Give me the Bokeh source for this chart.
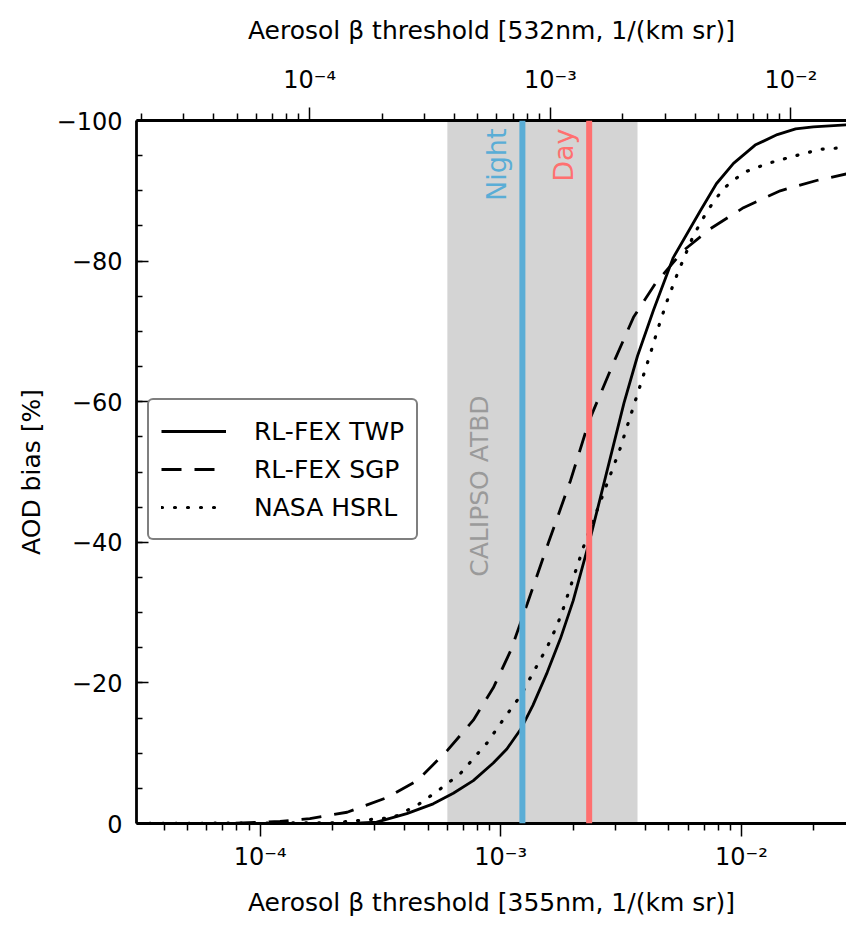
import math
from bokeh.plotting import figure
from bokeh.models import (Range1d, LogScale, LogAxis, FixedTicker, SingleIntervalTicker,
                          CustomJSTickFormatter, BoxAnnotation, Span, Label, Legend, LegendItem)
from bokeh.embed import file_html
from bokeh.resources import INLINE

# ---------------- data ----------------
# Aerosol backscatter threshold at 355 nm [1/(km sr)] and AOD bias [%]
twp_beta = [3.07e-5, 1.59e-4, 2.51e-4, 3.05e-4, 4.07e-4, 5.24e-4, 6.35e-4, 7.69e-4, 9.31e-4,
            1.06e-3, 1.21e-3, 1.36e-3, 1.56e-3, 1.77e-3, 2.00e-3, 2.33e-3, 2.60e-3, 2.90e-3,
            3.25e-3, 3.70e-3, 4.31e-3, 5.21e-3, 6.76e-3, 7.87e-3, 9.27e-3, 1.14e-2, 1.41e-2,
            1.68e-2, 1.99e-2, 2.82e-2]
twp_bias = [0.0, 0.0, -0.05, -0.2, -1.4, -2.8, -4.3, -6.1, -8.6,
            -10.6, -13.4, -16.8, -21.5, -26.3, -31.7, -40.0, -46.5, -53.0,
            -59.8, -66.5, -73.0, -80.5, -87.2, -91.0, -93.9, -96.5, -98.0,
            -98.8, -99.1, -99.4]

sgp_beta = [3.07e-5, 5.0e-5, 7.73e-5, 1.21e-4, 1.61e-4, 2.30e-4, 3.37e-4, 4.50e-4, 6.00e-4,
            7.69e-4, 9.31e-4, 1.10e-3, 1.29e-3, 1.58e-3, 1.95e-3, 2.33e-3, 2.99e-3, 3.56e-3,
            4.39e-3, 5.74e-3, 7.43e-3, 1.02e-2, 1.45e-2, 2.07e-2, 2.82e-2]
sgp_bias = [0.0, 0.0, -0.04, -0.3, -0.7, -1.6, -3.7, -6.1, -10.4,
            -14.7, -19.3, -24.6, -31.3, -40.0, -48.8, -57.3, -66.1, -72.0,
            -76.8, -81.5, -84.6, -87.6, -90.0, -91.5, -92.5]

hsrl_beta = [3.07e-5, 2.0e-4, 3.57e-4, 4.50e-4, 5.50e-4, 6.79e-4, 8.79e-4, 1.02e-3, 1.21e-3,
             1.36e-3, 1.56e-3, 1.72e-3, 1.82e-3, 2.24e-3, 3.11e-3, 4.19e-3, 4.52e-3, 4.92e-3,
             5.42e-3, 6.31e-3, 7.23e-3, 8.41e-3, 1.02e-2, 1.29e-2, 1.64e-2, 2.13e-2, 2.82e-2]
hsrl_bias = [0.0, -0.1, -0.85, -2.6, -4.7, -7.1, -11.5, -14.7, -18.2,
             -21.4, -25.1, -28.3, -30.6, -40.0, -53.0, -66.9, -70.6, -74.4,
             -78.2, -83.6, -87.2, -90.3, -92.6, -93.9, -94.9, -95.9, -96.2]

series_names = ["RL-FEX TWP", "RL-FEX SGP", "NASA HSRL"]

calipso_band = [6.0e-4, 3.7e-3]      # CALIPSO ATBD threshold range (355 nm)
night_threshold = 1.23e-3
day_threshold = 2.33e-3
wavelength_factor = 1.607            # beta_355 / beta_532

x_start, x_end = 3.065e-5, 2.733e-2
x_major = [1e-4, 1e-3, 1e-2]
x_minor = [m * 10.0 ** e for e in range(-5, -1) for m in range(2, 10)]

# ---------------- style ----------------
FONT = "DejaVu Sans"
BLUE = "#5aadd6"
RED = "#ff7070"
BAND = "#d4d4d4"

p = figure(width=846, height=925, output_backend="svg", toolbar_location=None,
           x_axis_type="log", x_range=Range1d(x_start, x_end), y_range=Range1d(0, -100),
           min_border_left=136, min_border_right=0, min_border_top=120, min_border_bottom=102)
p.outline_line_color = None
p.grid.visible = False
p.background_fill_color = "white"
p.border_fill_color = "white"

# top axis: 532 nm
p.extra_x_ranges = {"top": Range1d(x_start / wavelength_factor, x_end / wavelength_factor)}
p.extra_x_scales = {"top": LogScale()}
top_axis = LogAxis(x_range_name="top")
p.add_layout(top_axis, "above")

log_fmt = CustomJSTickFormatter(code="""
const e = Math.round(Math.log10(tick));
const m = {"-": "\\u207b", "0": "\\u2070", "1": "\\u00b9", "2": "\\u00b2", "3": "\\u00b3",
           "4": "\\u2074", "5": "\\u2075", "6": "\\u2076"};
return "10" + String(e).split("").map(c => m[c]).join("");
""")

def style_axis(ax):
    ax.major_tick_line_width = 1.5
    ax.minor_tick_line_width = 1.5
    ax.major_tick_line_color = "black"
    ax.minor_tick_line_color = "black"
    ax.axis_line_width = 2.8
    ax.axis_line_color = "black"
    ax.major_label_text_font = FONT
    ax.major_label_text_font_size = "24px"
    ax.major_label_text_color = "black"
    ax.axis_label_text_font = FONT
    ax.axis_label_text_font_size = "25px"
    ax.axis_label_text_font_style = "normal"
    ax.axis_label_text_color = "black"

for ax in (p.below[0], top_axis):
    style_axis(ax)
    ax.ticker = FixedTicker(ticks=x_major, minor_ticks=x_minor)
    ax.formatter = log_fmt
    ax.major_tick_in = 0
    ax.major_tick_out = 13
    ax.minor_tick_in = 0
    ax.minor_tick_out = 7

p.below[0].major_label_standoff = 6
p.below[0].axis_label_standoff = 14
top_axis.major_label_standoff = 14
top_axis.axis_label_standoff = 18

p.below[0].axis_label = "Aerosol \u03b2 threshold [355nm, 1/(km sr)]"
top_axis.axis_label = "Aerosol \u03b2 threshold [532nm, 1/(km sr)]"

ya = p.yaxis[0]
style_axis(ya)
ya.ticker = SingleIntervalTicker(interval=20, num_minor_ticks=4)
ya.formatter = CustomJSTickFormatter(code='return tick == 0 ? "0" : "\\u2212" + Math.abs(tick).toFixed(0);')
ya.major_tick_in = 12
ya.major_tick_out = 0
ya.minor_tick_in = 6
ya.minor_tick_out = 0
ya.major_label_standoff = 14
ya.axis_label = "AOD bias [%]"
ya.axis_label_standoff = 8

# CALIPSO band and thresholds
p.add_layout(BoxAnnotation(left=calipso_band[0], right=calipso_band[1], fill_color=BAND,
                           fill_alpha=1.0, line_color=None, level="underlay"))
p.add_layout(Span(location=night_threshold, dimension="height", line_color=BLUE, line_width=6))
p.add_layout(Span(location=day_threshold, dimension="height", line_color=RED, line_width=6))

for txt, xv, col in (("Night", night_threshold, BLUE), ("Day", day_threshold, RED)):
    p.add_layout(Label(x=xv, y=-100, text=txt, angle=90, angle_units="deg", x_offset=-26, y_offset=-8,
                       text_align="right", text_baseline="alphabetic", text_color=col,
                       text_font=FONT, text_font_size="27px"))
p.add_layout(Label(x=calipso_band[0], y=-48, text="CALIPSO ATBD", angle=90, angle_units="deg",
                   x_offset=32, text_align="center", text_baseline="alphabetic", text_color="#9a9a9a",
                   text_font=FONT, text_font_size="25px"))

# curves
r1 = p.line(twp_beta, twp_bias, line_color="black", line_width=2.8)
r2 = p.line(sgp_beta, sgp_bias, line_color="black", line_width=2.8, line_dash="20 13")
r3 = p.line(hsrl_beta, hsrl_bias, line_color="black", line_width=3.2, line_dash="1 12", line_cap="round")

legend = Legend(items=[LegendItem(label=series_names[0], renderers=[r1]),
                       LegendItem(label=series_names[1], renderers=[r2]),
                       LegendItem(label=series_names[2], renderers=[r3])],
                location=(11, 283), label_text_font=FONT, label_text_font_size="25px",
                label_text_color="black",
                glyph_width=65, glyph_height=38, label_height=38, label_standoff=28,
                padding=12, spacing=0, border_line_color="black", border_line_width=2,
                background_fill_color="white", background_fill_alpha=1.0)
if "border_radius" in Legend.properties():
    legend.border_radius = 6
p.add_layout(legend, "center")

open("out.html", "w").write(file_html(p, INLINE))
